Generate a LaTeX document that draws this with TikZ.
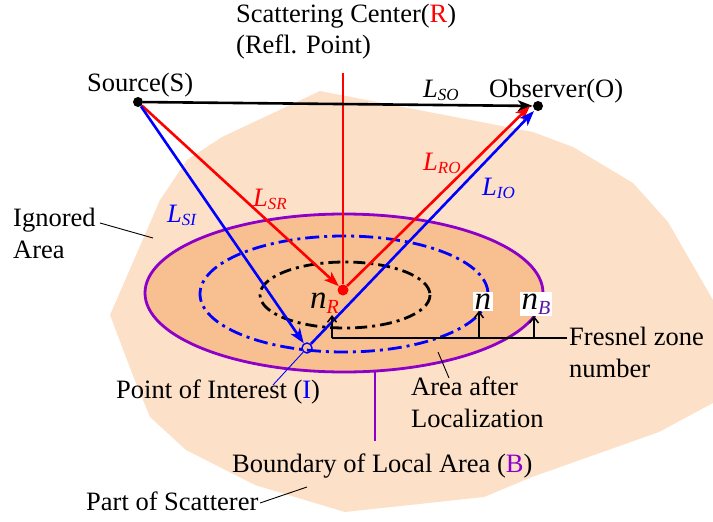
\documentclass[tikz,border=0pt]{standalone}
\usepackage{fontspec}
\setmainfont{Liberation Serif}
\usetikzlibrary{arrows.meta,calc}
\definecolor{peachL}{RGB}{252,224,200}
\definecolor{peachD}{RGB}{248,192,144}
\definecolor{purp}{RGB}{140,0,200}
\definecolor{purpD}{RGB}{90,20,160}
\newcommand{\Lsub}[1]{\textit{L}\raisebox{-3pt}{\fontsize{17}{17}\selectfont\textit{#1}}}
\newcommand{\nsub}[2]{{\fontsize{33}{33}\selectfont\textit{n}}\raisebox{-5pt}{\fontsize{20}{20}\selectfont\textcolor{#1}{\textit{#2}}}}
\begin{document}
\begin{tikzpicture}[x=1pt,y=-1pt,
  txt/.style={font=\fontsize{26.5}{32}\selectfont, inner sep=0pt, align=left, anchor=base west},
  dotnode/.style={circle, fill=black, inner sep=0pt, minimum size=10pt},
  bigarrow/.style={line width=2.6pt, -{Stealth[length=15pt,width=11pt,inset=4pt]}},
  smallarrow/.style={line width=1.5pt, -{Straight Barb[length=6pt,width=9pt]}},
  leader/.style={line width=0.9pt},
  dashdot/.style={line width=2.8pt, dash pattern=on 14pt off 5pt on 3pt off 5pt}
]
\useasboundingbox (0,0) rectangle (713,522);
% scatterer
\fill[peachL] (320,91) -- (533,132) -- (573,147) -- (633,183) -- (668,222) -- (713,300)
  -- (713,403) -- (659,432) -- (532,477) -- (484,497) -- (345,512) -- (255,485)
  -- (186,450) -- (150,417) -- (132,373) -- (110,315) -- (160,200) -- (187,160)
  -- (222,137) -- cycle;
% local area
\draw[purp, fill=peachD, line width=2.8pt] (344,293) ellipse [x radius=199, y radius=79];
\draw[blue, dashdot] (344,294) ellipse [x radius=144, y radius=58];
\draw[black, dashdot, dash pattern=on 12pt off 5pt on 3pt off 5pt] (345,295) ellipse [x radius=85, y radius=33];

% points
\node[dotnode] (S) at (138,102) {};
\node[dotnode] (O) at (538,106) {};
\node[circle, fill=red, inner sep=0pt, minimum size=11pt] (R) at (343,290) {};
\node[circle, draw=blue, line width=1.4pt, inner sep=0pt, minimum size=10pt] (I) at (307,348) {};
\coordinate (O1) at (530,106);
\coordinate (O2) at (534,111);
\coordinate (Rtop) at (343,73);

% vertical red line
\draw[red, line width=1.2pt] (Rtop) -- (R);

% rays
\draw[bigarrow, black] (S) -- (O);
\draw[bigarrow, red] (S) -- (R);
\draw[bigarrow, blue] (S) -- (I);
\draw[bigarrow, red] (R) -- (O1);
\draw[bigarrow, blue] (I) -- (O2);

% labels
\node[txt] (sc) at (236,22) {Scattering Center(\textcolor{red}{R})};
\node[txt] (rp) at (236,53) {(Refl. Point)};
\node[txt] (src) at (87,91) {Source(S)};
\node[txt] (obs) at (489,97) {Observer(O)};
\node[txt] (LSO) at (423,97) {\Lsub{SO}};
\node[txt, text=red] (LRO) at (423,170) {\Lsub{RO}};
\node[txt, text=blue] (LIO) at (482,195) {\Lsub{IO}};
\node[txt, text=red] (LSR) at (253,206) {\Lsub{SR}};
\node[txt, text=blue] (LSI) at (167,222) {\Lsub{SI}};

% Fresnel zone axis
\node[anchor=base west, inner sep=0pt] (nR) at (310,308) {\nsub{red}{R}};
\node[anchor=base west, fill=white, inner sep=1.5pt] (nn) at (473,309) {{\fontsize{33}{33}\selectfont\textit{n}}};
\node[anchor=base west, fill=white, inner sep=1.5pt] (nB) at (520,309) {\nsub{purpD}{B}};
\coordinate (axL) at (332,338);
\coordinate (axR) at (567,338);
\coordinate (a1) at (479,338);
\coordinate (a2) at (534,338);
\draw[line width=1.3pt] (axR) -- (axL);
\draw[smallarrow] (axL) -- (axL |- 0,315);
\draw[smallarrow] (a1) -- (a1 |- nn.south);
\draw[smallarrow] (a2) -- (a2 |- nB.south);
\node[txt] (fz) at (569,377) {Fresnel zone\\number};

% other labels and leaders
\node[txt] (ign) at (13,258) {Ignored\\Area};
\coordinate (ignA) at (100,223);
\coordinate (ignB) at (153,238);
\draw[leader] (ignA) -- (ignB);

\node[txt] (poi) at (116,398) {Point of Interest (\textcolor{blue}{I})};
\coordinate (poiA) at (273,385);
\draw[blue, leader] (poiA) -- (I);

\node[txt] (aal) at (411,427) {Area after\\Localization};
\coordinate (aalA) at (449,378);
\coordinate (aalB) at (438,352);
\draw[leader] (aalA) -- (aalB);

\node[txt] (bla) at (232,472) {Boundary of Local Area (\textcolor{purp}{B})};
\coordinate (blaA) at (375,372);
\coordinate (blaB) at (375,441);
\draw[purp, line width=1.2pt] (blaA) -- (blaB);

\node[txt] (pos) at (86,510) {Part of Scatterer};
\coordinate (posA) at (260,503);
\coordinate (posB) at (307,487);
\draw[leader] (posA) -- (posB);
\end{tikzpicture}
\end{document}
